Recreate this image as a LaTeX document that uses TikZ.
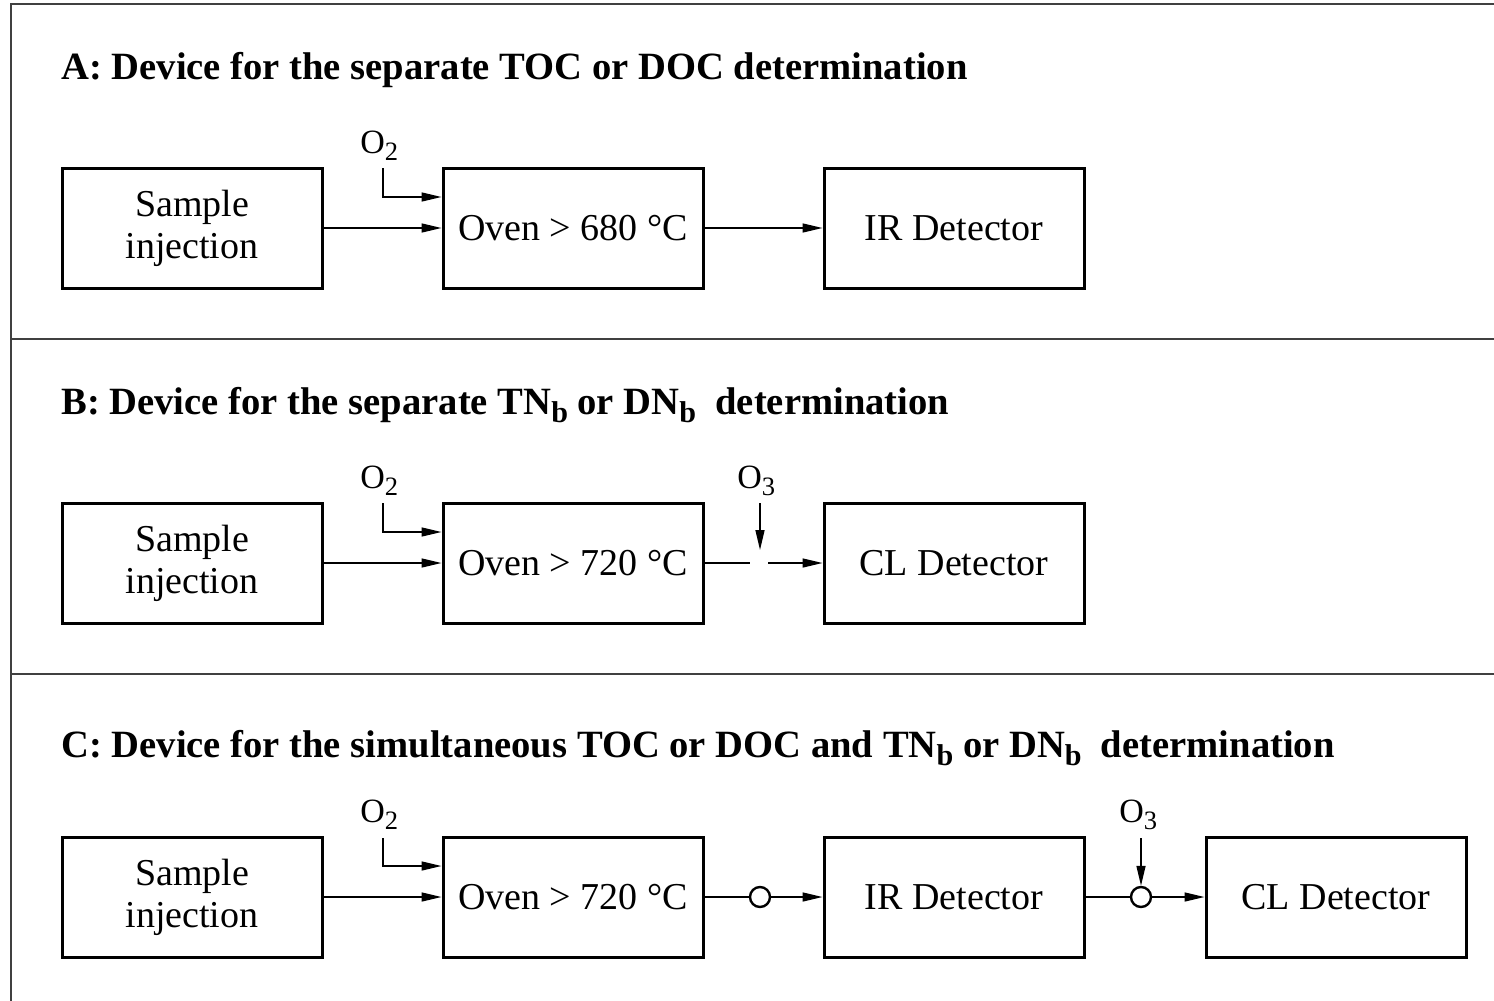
\documentclass[tikz,border=0pt]{standalone}
\usepackage{fontspec}
\setmainfont{Liberation Serif}
\usetikzlibrary{arrows.meta}
\newcommand\lowsub[1]{\raisebox{-0.22em}{\scalebox{0.78}{#1}}}
\begin{document}
\begin{tikzpicture}[x=0.5pt,y=-0.5pt,
 blk/.style={draw, line width=1.5pt, minimum width=130pt, minimum height=60pt, inner sep=0pt, font=\fontsize{19}{21}\selectfont, align=center},
 ln/.style={line width=0.75pt},
 arr/.style={ln,-{Triangle[length=10pt,width=4.5pt]}},
 ttl/.style={anchor=base west, inner sep=0pt, font=\fontsize{19.3}{21}\selectfont\bfseries},
 lbl/.style={anchor=base west, inner sep=0pt, font=\fontsize{17}{20}\selectfont},
 ring/.style={circle, draw, line width=1.2pt, minimum size=10pt, inner sep=0pt},
 frame/.style={line width=0.75pt, draw=black!75}]
\useasboundingbox (0,0) rectangle (1494,1001);
% frame
\draw[frame] (1494,4) -- (11,4) -- (11,1001);
\draw[frame] (11,339) -- (1494,339);
\draw[frame] (11,674) -- (1494,674);
% ---------- A ----------
\node[ttl] (tA) at (61,79) {A: Device for the separate TOC or DOC determination};
\node[blk] (sA) at (192,228) {Sample\\injection};
\node[blk] (oA) at (573,228) {Oven > 680 °C};
\node[blk] (dA) at (954,228) {IR Detector};
\node[lbl] (gA) at (360,153) {O\lowsub{2}};
\coordinate (pA) at (383,168);
\draw[arr] (sA) -- (oA);
\draw[arr] (oA) -- (dA);
\draw[arr] (pA) |- ([yshift=15.5pt]oA.west);
% ---------- B ----------
\node[ttl] (tB) at (61,414) {B: Device for the separate TN\lowsub{b} or DN\lowsub{b}\ \ determination};
\node[blk] (sB) at (192,563) {Sample\\injection};
\node[blk] (oB) at (573,563) {Oven > 720 °C};
\node[blk] (dB) at (954,563) {CL Detector};
\node[lbl] (gB) at (360,488) {O\lowsub{2}};
\coordinate (pB) at (383,503);
\draw[arr] (sB) -- (oB);
\draw[arr] (pB) |- ([yshift=15.5pt]oB.west);
\node[lbl] (hB) at (737,488) {O\lowsub{3}};
\coordinate (qB) at (760,503);
\coordinate (mB) at (760,550);
\coordinate (gapL) at (750,563);
\coordinate (gapR) at (768,563);
\draw[arr] (qB) -- (mB);
\draw[ln] (oB.east) -- (gapL);
\draw[arr] (gapR) -- (dB.west);
% ---------- C ----------
\node[ttl] (tC) at (61,757) {C: Device for the simultaneous TOC or DOC and TN\lowsub{b} or DN\lowsub{b}\ \ determination};
\node[blk] (sC) at (192,897) {Sample\\injection};
\node[blk] (oC) at (573,897) {Oven > 720 °C};
\node[blk] (dC) at (954,897) {IR Detector};
\node[blk] (eC) at (1336,897) {CL Detector};
\node[lbl] (gC) at (360,822) {O\lowsub{2}};
\coordinate (pC) at (383,838);
\draw[arr] (sC) -- (oC);
\draw[arr] (pC) |- ([yshift=15.5pt]oC.west);
\node[ring] (r1) at (760,897) {};
\node[ring] (r2) at (1141,897) {};
\draw[ln] (oC.east) -- (r1.west);
\draw[arr] (r1.east) -- (dC.west);
\draw[ln] (dC.east) -- (r2.west);
\draw[arr] (r2.east) -- (eC.west);
\node[lbl] (hC) at (1119,822) {O\lowsub{3}};
\coordinate (qC) at (1141,838);
\draw[arr] (qC) -- (r2.north);
\end{tikzpicture}
\end{document}
